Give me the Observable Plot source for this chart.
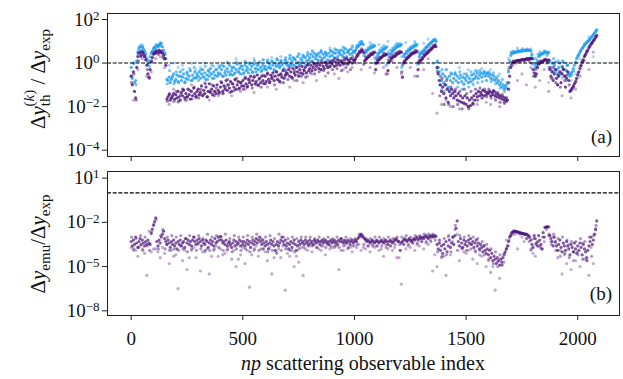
<!DOCTYPE html>
<html><head><meta charset="utf-8">
<script src="https://cdn.jsdelivr.net/npm/d3@7"></script>
<script src="https://cdn.jsdelivr.net/npm/@observablehq/plot@0.6"></script>
<style>
body{margin:0;background:#fff;}
#c{position:relative;width:623px;height:379px;font-family:"Liberation Serif",serif;}
#c svg{position:absolute;left:0;overflow:visible;}
</style></head><body><div id="c"></div>
<script>
// log10 values, main arrays at index 0,5,10,...
const topPurple=[
-0.6,-1.0,-0.4,-1.3,-1.6,-0.2,0.3,0.45,0.5,0.35,0.5,0.4,0.3,0.15,-0.1,-0.5,-0.65,-0.3,0.05,0.25,
0.4,0.5,0.45,0.55,0.5,0.6,0.5,0.55,0.45,0.35,0.2,-0.1,-1.65,-1.55,-1.45,-1.7,-1.6,-1.5,-1.4,-1.65,
-1.45,-1.6,-1.3,-1.55,-1.7,-1.35,-1.5,-1.25,-1.6,-1.4,-1.55,-1.2,-1.45,-1.65,-1.3,-1.5,-1.15,-1.4,-1.55,-1.3,
-1.2,-1.45,-1.35,-1.05,-1.5,-1.25,-1.4,-1.1,-1.55,-1.3,-0.95,-1.35,-1.2,-1.45,-1.05,-1.3,-1.4,-1.0,-1.25,-1.35,
-1.1,-0.9,-1.3,-1.05,-1.2,-0.8,-1.25,-1.0,-1.15,-0.85,-1.3,-0.95,-1.1,-0.75,-1.2,-1.0,-0.85,-1.15,-0.9,-1.05,
-0.8,-1.05,-0.7,-0.95,-1.1,-0.75,-0.9,-0.6,-1.0,-0.8,-0.65,-0.95,-0.85,-0.55,-1.0,-0.7,-0.9,-0.6,-0.8,-0.95,
-0.6,-0.85,-0.5,-0.75,-0.9,-0.55,-0.7,-0.45,-0.8,-0.6,-0.4,-0.75,-0.55,-0.85,-0.5,-0.65,-0.35,-0.7,-0.55,-0.45,
-0.5,-0.3,-0.6,-0.4,-0.65,-0.25,-0.45,-0.55,-0.2,-0.4,-0.6,-0.3,-0.45,-0.15,-0.5,-0.35,-0.2,-0.45,-0.1,-0.35,
-0.25,-0.1,-0.35,-0.2,-0.05,-0.3,-0.15,0.0,-0.25,-0.1,-0.3,0.0,-0.15,-0.25,0.05,-0.1,-0.2,0.0,-0.15,0.05,
-0.05,0.1,-0.15,0.05,-0.1,0.15,0.0,-0.1,0.1,0.05,-0.05,0.15,0.0,0.2,-0.05,0.1,0.05,0.2,0.0,0.15,
0.1,0.2,0.3,0.35,0.45,0.5,0.55,0.6,0.5,0.1,0.15,0.2,0.25,0.3,0.35,0.4,0.4,0.45,0.5,-0.3,
0.0,0.1,0.15,0.2,0.25,0.3,0.35,0.35,0.4,0.4,-0.35,0.05,0.1,0.2,0.25,0.3,0.3,0.35,0.4,0.45,
0.45,0.5,0.5,-0.65,0.0,0.1,0.15,0.2,0.25,0.3,0.35,0.4,0.45,0.45,0.5,0.5,0.55,-0.3,0.0,0.1,
0.15,0.2,0.3,0.35,0.4,0.45,0.5,0.55,0.6,0.65,0.7,0.75,0.8,0.75,-0.2,-0.5,-0.8,-1.0,-1.3,-1.1,
-1.4,-1.0,-1.6,-1.2,-1.8,-1.3,-1.5,-1.2,-1.4,-1.6,-1.3,-1.5,-1.7,-1.4,-1.75,-1.5,-1.8,-1.6,-1.85,-1.5,
-1.9,-1.6,-2.0,-1.7,-1.95,-1.6,-1.85,-1.5,-1.7,-1.4,-1.55,-1.3,-1.5,-1.35,-1.45,-1.25,-1.5,-1.3,-1.45,-1.35,
-1.4,-1.3,-1.5,-1.35,-1.45,-1.3,-1.5,-1.4,-1.55,-1.45,-1.6,-1.5,-1.65,-1.55,-1.7,-1.6,-1.75,-1.7,-1.2,-0.6,
-0.2,0.0,0.05,0.05,0.08,0.1,0.1,0.12,0.12,0.14,0.15,0.15,0.16,0.17,0.18,0.18,0.2,0.2,0.2,0.2,
-0.3,-0.45,-0.6,-0.5,-0.2,-0.05,0.0,0.05,0.08,0.1,0.12,0.15,0.15,0.1,0.15,-0.3,-0.6,-0.4,-0.8,-0.5,
-0.3,-0.7,-1.0,-0.6,-0.4,-0.9,-0.5,-0.3,-0.6,-1.1,-0.7,-0.4,-0.8,-1.3,-1.25,-1.15,-1.05,-0.95,-0.87,-0.7,
-0.55,-0.4,-0.25,-0.1,0.05,0.15,0.3,0.4,0.5,0.6,0.7,0.8,0.88,0.95,1.02,1.1,1.18,1.27];
const topBlue=[
-0.2,-0.7,0.0,-0.9,-0.8,0.1,0.5,0.7,0.75,0.6,0.75,0.65,0.55,0.4,0.2,-0.05,0.1,0.3,0.45,0.55,
0.65,0.75,0.7,0.8,0.75,0.85,0.8,0.9,0.75,0.6,0.45,0.2,-0.75,-0.8,-0.65,-0.9,-0.75,-0.6,-0.5,-0.85,
-0.75,-0.55,-0.85,-0.6,-0.4,-0.8,-0.65,-0.5,-0.9,-0.7,-0.45,-0.75,-0.6,-0.35,-0.8,-0.55,-0.7,-0.4,-0.65,-0.5,
-0.6,-0.4,-0.7,-0.5,-0.3,-0.65,-0.45,-0.75,-0.55,-0.35,-0.6,-0.25,-0.5,-0.7,-0.4,-0.55,-0.3,-0.6,-0.45,-0.2,
-0.5,-0.3,-0.6,-0.15,-0.45,-0.55,-0.25,-0.4,-0.1,-0.5,-0.35,-0.55,-0.2,-0.45,-0.3,-0.05,-0.4,-0.25,-0.5,-0.15,
-0.3,-0.45,-0.1,-0.35,-0.2,-0.45,0.0,-0.3,-0.15,-0.4,-0.05,-0.25,-0.4,-0.1,-0.3,0.05,-0.2,-0.35,-0.1,-0.25,
-0.15,-0.3,0.05,-0.2,-0.05,-0.25,0.1,-0.1,-0.3,0.0,-0.15,0.15,-0.05,-0.2,0.1,-0.1,0.0,-0.25,0.15,-0.05,
0.05,-0.1,0.2,-0.05,0.1,0.25,-0.1,0.15,0.0,0.3,0.05,-0.05,0.2,0.1,0.35,0.0,0.25,0.1,0.35,0.15,
0.25,0.4,0.1,0.3,0.45,0.2,0.35,0.15,0.45,0.3,0.5,0.2,0.4,0.25,0.5,0.35,0.15,0.45,0.3,0.55,
0.35,0.5,0.25,0.45,0.6,0.3,0.5,0.4,0.6,0.35,0.55,0.45,0.65,0.3,0.5,0.6,0.4,0.65,0.45,0.55,
0.5,0.6,0.7,0.75,0.8,0.85,0.9,0.9,0.85,0.45,0.5,0.55,0.6,0.65,0.7,0.7,0.75,0.75,0.8,0.0,
0.25,0.35,0.45,0.5,0.55,0.6,0.65,0.65,0.7,0.75,0.0,0.3,0.4,0.45,0.55,0.6,0.65,0.7,0.75,0.75,
0.8,0.8,0.85,-0.1,0.3,0.4,0.45,0.5,0.55,0.6,0.65,0.7,0.7,0.75,0.8,0.8,0.85,0.05,0.3,0.4,
0.45,0.5,0.55,0.6,0.7,0.75,0.8,0.85,0.9,0.95,1.0,1.05,1.05,1.0,0.05,-0.2,-0.4,-0.6,-0.8,-0.5,
-0.9,-0.6,-1.0,-0.7,-1.1,-0.6,-0.8,-0.5,-0.9,-0.7,-0.5,-0.8,-0.6,-0.9,-0.7,-0.55,-0.85,-0.65,-0.95,-0.7,
-0.8,-0.6,-0.9,-0.7,-0.85,-0.55,-0.75,-0.5,-0.7,-0.6,-0.45,-0.7,-0.55,-0.45,-0.65,-0.5,-0.4,-0.6,-0.5,-0.45,
-0.6,-0.5,-0.7,-0.55,-0.75,-0.6,-0.8,-0.7,-0.9,-0.8,-1.0,-0.9,-1.1,-1.0,-1.2,-1.05,-1.15,-0.9,-0.4,0.1,
0.35,0.45,0.45,0.48,0.5,0.5,0.52,0.52,0.54,0.55,0.55,0.56,0.57,0.58,0.58,0.6,0.6,0.6,0.55,0.4,
0.2,0.0,-0.2,-0.1,0.1,0.3,0.35,0.4,0.42,0.45,0.47,0.5,0.5,0.45,0.5,0.1,-0.2,0.0,-0.4,-0.1,
0.05,-0.3,-0.55,-0.2,0.0,-0.45,-0.15,0.05,-0.3,-0.6,-0.35,-0.1,-0.5,-0.6,-0.5,-0.4,-0.25,-0.1,0.05,0.2,
0.3,0.4,0.5,0.6,0.68,0.75,0.82,0.88,0.94,1.0,1.05,1.1,1.17,1.24,1.3,1.38,1.45,1.52];
const botPurple=[
-3.3,-3.6,-3.2,-3.5,-3.0,-3.4,-3.7,-3.3,-3.1,-3.5,-3.2,-3.4,-3.6,-3.3,-3.5,-3.2,-3.4,-3.5,-2.75,-2.45,
-2.2,-1.95,-1.7,-3.3,-3.6,-3.2,-3.4,-3.0,-2.8,-2.6,-3.1,-3.3,-3.5,-3.2,-3.4,-3.7,-3.3,-3.5,-3.2,-3.6,
-3.4,-3.8,-3.3,-3.5,-3.2,-3.6,-3.4,-3.3,-3.7,-3.1,-3.4,-3.2,-3.5,-3.3,-3.6,-3.2,-3.0,-3.3,-3.5,-3.2,
-3.4,-3.1,-3.3,-3.6,-3.2,-3.4,-3.5,-3.2,-3.3,-3.7,-3.4,-3.2,-3.5,-3.3,-3.6,-3.1,-3.4,-3.3,-3.0,-3.2,
-2.95,-3.2,-3.4,-3.3,-3.5,-3.2,-3.6,-3.4,-3.3,-3.5,-3.7,-3.4,-3.2,-3.6,-3.3,-3.5,-3.4,-3.2,-3.6,-3.3,
-3.5,-3.3,-3.6,-3.4,-3.2,-3.5,-3.3,-3.7,-3.4,-3.2,-3.5,-3.3,-3.1,-3.4,-3.2,-3.0,-3.3,-3.5,-3.2,-3.4,
-3.6,-3.3,-3.5,-3.8,-3.4,-3.2,-3.5,-3.3,-3.6,-3.9,-3.5,-3.3,-3.6,-3.4,-3.2,-3.0,-3.3,-3.5,-3.2,-3.6,
-3.4,-3.8,-3.5,-3.3,-3.7,-3.4,-3.2,-3.5,-3.9,-3.6,-3.3,-3.5,-3.2,-3.4,-3.3,-3.5,-3.2,-3.4,-3.3,-3.5,
-3.2,-3.4,-3.3,-3.5,-3.2,-3.3,-3.4,-3.2,-3.3,-3.5,-3.3,-3.2,-3.4,-3.3,-3.2,-3.4,-3.3,-3.5,-3.3,-3.2,
-3.4,-3.3,-3.2,-3.4,-3.3,-3.5,-3.2,-3.3,-3.1,-3.3,-3.4,-3.2,-3.3,-3.4,-3.2,-3.3,-3.5,-3.3,-3.2,-3.4,
-3.3,-3.2,-3.3,-3.1,-3.0,-2.9,-2.8,-2.9,-3.0,-3.1,-3.2,-3.3,-3.2,-3.3,-3.4,-3.3,-3.2,-3.3,-3.4,-3.3,
-3.2,-3.3,-3.4,-3.3,-3.2,-3.3,-3.4,-3.3,-3.2,-3.3,-3.5,-3.3,-3.2,-3.3,-3.4,-3.3,-3.2,-3.1,-3.2,-3.3,
-3.3,-3.9,-3.4,-3.3,-3.2,-3.1,-3.2,-3.3,-3.2,-3.1,-3.2,-3.3,-3.2,-3.1,-3.2,-3.1,-3.0,-3.2,-3.1,-3.0,
-3.1,-3.0,-3.1,-3.0,-2.9,-3.0,-3.1,-3.0,-2.9,-3.0,-2.9,-3.0,-2.9,-2.95,-3.5,-3.8,-3.4,-3.9,-3.6,-4.1,
-3.5,-3.8,-3.3,-4.0,-3.6,-3.2,-3.7,-3.4,-3.0,-3.5,-2.9,-2.4,-1.9,-3.3,-3.6,-3.1,-3.4,-3.7,-3.2,-3.5,
-3.3,-3.6,-3.2,-3.4,-3.1,-3.5,-3.3,-3.7,-3.4,-3.2,-3.6,-3.4,-3.8,-3.5,-3.7,-4.0,-3.6,-3.9,-4.1,-3.8,
-4.2,-3.9,-4.4,-4.1,-4.6,-4.3,-4.5,-4.8,-4.4,-4.6,-4.9,-4.5,-4.7,-4.4,-4.2,-4.0,-3.8,-3.6,-3.3,-3.0,
-2.9,-2.7,-2.65,-2.6,-2.6,-2.62,-2.65,-2.67,-2.7,-2.72,-2.75,-2.75,-2.78,-2.8,-2.8,-2.85,-2.9,-3.0,-3.2,-3.5,
-3.7,-2.9,-3.1,-3.4,-3.6,-2.9,-3.2,-3.5,-3.8,-2.7,-3.0,-2.35,-2.33,-2.3,-2.3,-2.9,-3.1,-3.3,-3.6,-3.0,
-3.3,-3.6,-3.9,-3.5,-3.2,-3.7,-4.0,-3.4,-3.6,-3.9,-3.3,-3.6,-3.8,-4.2,-3.5,-3.7,-4.0,-3.4,-3.8,-4.1,
-3.6,-3.9,-3.4,-3.7,-4.2,-3.5,-3.8,-4.0,-4.4,-3.9,-3.6,-3.3,-3.0,-3.5,-3.2,-2.8,-2.5,-1.9];
// second pass of each band, at index 2,12,22,...
const topPurpleB=[
-0.9,-0.5,-1.7,0.1,0.3,0.5,0.3,-0.3,-0.7,0.1,
0.45,0.55,0.4,0.5,0.25,0.2,-1.75,-1.4,-1.6,-1.75,
-1.3,-1.75,-1.45,-1.2,-1.7,-1.55,-1.25,-1.65,-1.1,-1.5,
-1.6,-1.2,-1.45,-0.95,-1.55,-1.3,-1.0,-1.5,-1.15,-1.4,
-0.85,-1.4,-1.1,-0.75,-1.35,-0.95,-1.25,-0.7,-1.2,-0.9,
-1.2,-0.65,-1.05,-0.8,-1.15,-0.6,-1.0,-0.75,-1.1,-0.55,
-0.95,-0.45,-0.85,-0.6,-1.0,-0.4,-0.8,-0.55,-0.9,-0.35,
-0.75,-0.2,-0.7,-0.35,-0.8,-0.15,-0.6,-0.3,-0.65,-0.05,
-0.45,0.05,-0.5,-0.05,-0.4,0.1,-0.35,0.0,-0.45,0.1,
-0.3,0.2,-0.25,0.1,-0.35,0.25,-0.2,0.15,-0.3,0.3,
0.15,0.4,0.55,0.65,-0.05,0.25,0.35,0.45,0.5,0.0,
0.15,0.25,0.3,0.45,-0.5,0.15,0.25,0.35,0.45,0.5,
0.55,-0.4,0.05,0.25,0.35,0.45,0.5,0.6,-0.6,0.15,
0.25,0.4,0.5,0.6,0.7,0.8,0.85,-0.4,-1.5,-0.7,
-1.9,-0.8,-1.9,-1.1,-2.0,-1.2,-1.9,-1.3,-2.1,-1.2,
-1.4,-2.1,-1.3,-1.9,-1.2,-1.7,-1.15,-1.6,-1.2,-1.55,
-1.2,-1.6,-1.25,-1.7,-1.35,-1.8,-1.45,-1.85,-1.6,-0.9,
-0.1,0.1,0.0,0.12,0.05,0.18,0.1,0.22,0.1,0.0,
-0.6,-0.3,0.0,0.1,0.05,0.18,0.0,-0.2,-0.7,-0.2,
-0.9,-0.5,-1.1,-0.2,-0.8,-0.55,-1.0,-1.2,-1.1,-0.8,
-0.45,-0.15,0.1,0.35,0.55,0.75,0.9,1.05,1.22];
const topBlueB=[
-0.6,0.0,-1.0,0.6,0.8,0.75,0.5,0.1,-0.15,0.5,
0.7,0.85,0.8,0.9,0.5,0.4,-0.95,-0.35,-0.7,-0.95,
-0.4,-0.9,-0.6,-0.3,-0.85,-0.55,-0.25,-0.8,-0.2,-0.7,
-0.8,-0.3,-0.6,-0.15,-0.75,-0.45,-0.1,-0.7,-0.3,-0.55,
-0.1,-0.6,-0.35,0.0,-0.55,-0.2,-0.5,0.05,-0.4,-0.15,
-0.5,0.05,-0.3,-0.05,-0.45,0.1,-0.25,0.0,-0.4,0.15,
-0.3,0.15,-0.2,0.05,-0.35,0.2,-0.15,0.1,-0.3,0.25,
-0.15,0.35,-0.1,0.2,-0.2,0.4,0.0,0.3,-0.1,0.45,
0.05,0.55,0.0,0.4,0.1,0.55,0.05,0.45,0.1,0.6,
0.15,0.65,0.2,0.5,0.1,0.7,0.25,0.55,0.2,0.75,
0.55,0.8,0.95,1.0,0.35,0.6,0.7,0.8,0.85,0.2,
0.45,0.6,0.7,0.8,-0.1,0.5,0.6,0.7,0.8,0.85,
0.9,-0.2,0.4,0.55,0.65,0.75,0.8,0.9,-0.05,0.45,
0.55,0.65,0.75,0.85,0.95,1.05,1.1,0.1,-1.0,-0.3,
-1.3,-0.3,-1.2,-0.45,-1.3,-0.5,-1.1,-0.4,-1.2,-0.5,
-0.5,-1.1,-0.4,-1.0,-0.35,-0.9,-0.35,-0.85,-0.4,-0.8,
-0.4,-0.85,-0.45,-0.95,-0.6,-1.15,-0.75,-1.3,-1.0,-0.2,
0.5,0.55,0.5,0.6,0.55,0.65,0.6,0.65,0.58,0.3,
-0.05,0.2,0.4,0.5,0.45,0.55,0.35,0.1,-0.3,0.2,
-0.4,0.1,-0.5,0.1,-0.3,-0.1,-0.45,-0.55,-0.35,0.0,
0.35,0.55,0.7,0.85,0.97,1.08,1.2,1.33,1.48];
const botPurpleB=[
-3.0,-3.8,-3.1,-3.7,-2.9,-3.9,-3.0,-3.6,-3.9,-2.6,
-2.1,-1.8,-3.8,-2.9,-2.5,-3.8,-3.0,-3.9,-2.9,-3.8,
-3.0,-3.9,-2.9,-3.8,-3.1,-4.0,-2.9,-3.8,-3.0,-3.9,
-2.9,-3.8,-3.1,-3.9,-2.8,-3.9,-3.0,-3.8,-2.9,-3.7,
-3.0,-3.9,-2.8,-3.8,-3.1,-4.0,-2.9,-3.8,-3.0,-3.9,
-3.0,-3.8,-2.9,-4.0,-3.0,-3.8,-2.8,-3.9,-3.1,-3.8,
-3.0,-4.0,-2.9,-3.9,-3.1,-4.1,-2.8,-3.9,-3.0,-3.8,
-3.1,-3.9,-3.0,-4.0,-3.1,-3.8,-3.0,-3.7,-3.0,-3.6,
-3.0,-3.6,-3.1,-3.7,-3.0,-3.6,-3.1,-3.7,-3.0,-3.6,
-3.1,-3.6,-3.0,-3.7,-3.1,-3.6,-3.0,-3.7,-3.1,-3.6,
-3.1,-3.5,-2.8,-3.0,-3.5,-3.1,-3.6,-3.1,-3.6,-3.0,
-3.6,-3.0,-3.6,-3.1,-3.7,-3.0,-3.6,-3.1,-3.5,-3.0,
-3.5,-3.0,-3.5,-2.9,-3.5,-3.0,-3.4,-2.9,-3.4,-2.9,
-3.3,-2.8,-3.3,-2.8,-3.3,-2.8,-3.2,-4.0,-3.2,-4.3,
-3.1,-4.2,-2.9,-4.0,-3.0,-2.2,-3.9,-2.9,-3.8,-3.0,
-3.9,-2.9,-3.8,-3.0,-4.0,-3.1,-3.9,-3.3,-4.2,-3.5,
-4.5,-3.8,-4.8,-4.0,-5.0,-4.2,-4.9,-4.1,-3.8,-3.2,
-2.75,-2.6,-2.63,-2.68,-2.73,-2.78,-2.83,-3.1,-3.3,-3.8,
-3.1,-3.5,-3.3,-3.7,-3.0,-2.32,-2.3,-2.8,-3.5,-2.8,
-3.9,-3.1,-4.3,-3.0,-4.1,-3.2,-4.4,-3.3,-4.0,-3.3,
-4.2,-3.1,-4.5,-3.3,-4.6,-3.0,-4.3,-2.9,-2.2];
// fainter scattered points, at index 10,30,50,... (A) and 0,20,40,... (B)
const topPurpleScatter=[
-1.7,-0.3,0.2,-0.6,-0.4,0.2,0.3,-0.2,-1.9,-1.2,
-1.8,-1.2,-1.7,-1.0,-1.6,-1.45,-0.9,-1.7,-1.3,-1.5,
-1.4,-1.0,-1.5,-0.8,-1.3,-1.2,-0.7,-1.35,-1.05,-0.9,
-1.1,-0.7,-1.2,-0.9,-0.6,-1.1,-0.8,-0.5,-0.9,-0.6,
-0.5,-0.8,-0.3,-0.6,-0.2,-0.5,-0.7,-0.3,-0.4,-0.2,
0.0,-0.3,0.3,-0.2,-0.45,0.0,-0.2,-0.5,0.1,-0.2,
-0.5,0.0,-0.2,-0.6,0.1,-0.3,0.2,-1.4,-2.3,-1.9,
-1.7,-2.0,-1.5,-2.1,-1.8,-2.0,-1.7,-1.9,-1.6,-1.8,
-1.9,-1.6,-2.0,-1.8,-0.3,-0.1,-0.8,-0.5,-1.0,-0.2,
-1.1,-0.8,-0.3,-1.3,-0.7,-1.0,-1.5,-0.8,-1.6,-1.2,
-0.6,0.1,-0.3,0.5];
const topBlueScatter=[
0.0,0.4,0.85,0.2,0.1,0.6,0.95,0.5,-0.1,0.0,
-0.2,-0.1,-0.4,0.0,-0.3,-0.2,0.0,-0.35,-0.15,-0.1,
-0.1,0.05,-0.2,0.2,-0.05,0.1,0.0,0.2,-0.1,0.15,
0.1,0.25,-0.1,0.3,0.1,0.35,0.2,0.45,0.25,0.5,
0.55,0.3,0.6,0.4,0.7,0.45,0.6,0.75,0.5,0.8,
0.8,1.0,0.6,0.95,0.3,0.85,0.5,1.0,0.55,0.9,
0.3,0.95,0.6,1.0,0.5,0.9,1.1,0.0,-0.3,-1.2,
-0.3,-1.4,-0.4,-0.2,-1.0,-0.3,-0.9,-0.35,-0.25,-0.8,
-0.3,-1.3,-0.5,-1.1,0.2,0.5,0.7,0.6,0.55,0.65,
-0.5,0.4,0.55,-0.9,0.0,-0.3,-0.7,0.0,-0.8,-0.5,
0.2,0.9,1.2,0.3];
const botPurpleScatter=[
-3.9,-4.3,-3.8,-5.6,-4.0,-3.8,-4.4,-4.1,-4.8,-4.3,
-6.5,-4.6,-5.2,-3.9,-4.4,-5.3,-4.0,-5.5,-3.9,-4.3,
-4.2,-3.9,-4.5,-5.0,-4.2,-4.8,-6.4,-3.9,-4.3,-3.8,
-4.6,-5.5,-4.0,-4.4,-6.6,-4.3,-5.0,-4.7,-5.6,-3.9,
-4.0,-3.7,-3.9,-4.2,-3.8,-3.7,-5.2,-3.9,-3.8,-4.0,
-3.7,-3.9,-3.8,-4.0,-3.7,-3.9,-4.3,-3.8,-3.9,-4.4,
-6.2,-3.8,-3.7,-3.9,-3.6,-3.8,-3.5,-5.3,-5.0,-4.4,
-5.6,-4.2,-2.5,-4.6,-4.0,-3.9,-4.5,-4.8,-4.3,-5.0,
-5.4,-6.6,-5.8,-4.7,-3.6,-2.8,-3.8,-3.0,-3.1,-3.9,
-4.3,-3.6,-3.3,-2.9,-3.0,-4.4,-5.5,-4.8,-5.2,-4.6,
-5.0,-4.5,-5.6,-4.8];
const botPurpleScatterB=[
-3.7,-3.9,-3.6,-4.1,-2.6,-3.8,-4.0,-3.7,-3.5,-3.9,
-4.2,-3.6,-3.9,-4.4,-3.7,-3.5,-4.0,-3.8,-4.3,-3.6,
-3.8,-4.1,-3.6,-3.9,-4.5,-3.7,-3.9,-4.2,-3.6,-3.8,
-4.0,-3.7,-4.4,-3.8,-3.6,-4.1,-3.9,-4.3,-3.7,-3.8,
-3.6,-3.5,-3.8,-3.6,-3.5,-3.7,-3.6,-3.9,-3.5,-3.7,
-3.6,-3.5,-3.7,-3.6,-3.5,-3.6,-3.8,-3.5,-3.6,-3.7,
-4.4,-3.5,-3.6,-3.4,-3.5,-3.3,-3.4,-3.2,-4.2,-3.2,
-4.3,-3.0,-3.3,-2.8,-3.7,-4.1,-3.5,-3.9,-4.2,-3.6,
-4.6,-5.0,-4.7,-4.9,-3.2,-2.9,-2.8,-2.8,-3.3,-3.0,
-4.1,-3.3,-3.8,-2.5,-3.3,-3.4,-3.9,-4.2,-3.5,-4.6,
-4.0,-3.4,-4.6,-3.7,-2.4];
const MAIN_START=0, MAIN_STEP=5, B_START=2, B_STEP=10, SC_START=10, SC_B_START=0, SC_STEP=20;
const xTicks=[0,500,1000,1500,2000];
const topYTicks=[1e-4,1e-2,1e0,1e2];
const botYTicks=[1e-8,1e-5,1e-2,1e1];
const refLine=[1];
const panelLabels=["(a)","(b)"];

const PURPLE="#4b1278", BLUE="#1f9cf0";
const mk=(arr,start,step)=>arr.map((v,k)=>({i:start+k*step,v:Math.pow(10,v)}));
const xDomain=[-106,2187];
const fmt=d=>"10^"+Math.round(Math.log10(d));
const style={fontFamily:'"Liberation Serif", serif',fontSize:"19px",background:"transparent",overflow:"visible",color:"#111"};
const R=1.6;

const topSvg=Plot.plot({
  width:623,height:160,marginLeft:107,marginRight:4,marginTop:13,marginBottom:4,style,
  x:{domain:xDomain,label:null},
  y:{type:"log",domain:[Math.pow(10,-4.29),Math.pow(10,2.276)],label:null},
  marks:[
    Plot.dot(mk(topBlueScatter,SC_START,SC_STEP),{x:"i",y:"v",r:R,fill:BLUE,fillOpacity:0.4}),
    Plot.dot(mk(topBlueB,B_START,B_STEP),{x:"i",y:"v",r:R,fill:BLUE,fillOpacity:0.6}),
    Plot.dot(mk(topBlue,MAIN_START,MAIN_STEP),{x:"i",y:"v",r:R,fill:BLUE,fillOpacity:0.8}),
    Plot.dot(mk(topPurpleScatter,SC_START,SC_STEP),{x:"i",y:"v",r:R,fill:PURPLE,fillOpacity:0.35}),
    Plot.dot(mk(topPurpleB,B_START,B_STEP),{x:"i",y:"v",r:R,fill:PURPLE,fillOpacity:0.55}),
    Plot.dot(mk(topPurple,MAIN_START,MAIN_STEP),{x:"i",y:"v",r:R,fill:PURPLE,fillOpacity:0.8}),
    Plot.ruleY(refLine,{stroke:"#000",strokeWidth:1.1,strokeDasharray:"4,1.7"}),
    Plot.frame({stroke:"#222"}),
    Plot.axisX({ticks:xTicks,tickSize:5,tickFormat:()=>"",stroke:"#222",label:null}),
    Plot.axisY({ticks:topYTicks,tickSize:5,tickPadding:3,tickFormat:fmt,stroke:"#222",label:null})
  ]
});
const botSvg=Plot.plot({
  width:623,height:219,marginLeft:107,marginRight:4,marginTop:11,marginBottom:64,style,
  x:{domain:xDomain,label:null},
  y:{type:"log",domain:[Math.pow(10,-8.32),Math.pow(10,1.45)],label:null},
  marks:[
    Plot.dot(mk(botPurpleScatter,SC_START,SC_STEP),{x:"i",y:"v",r:R,fill:PURPLE,fillOpacity:0.35}),
    Plot.dot(mk(botPurpleScatterB,SC_B_START,SC_STEP),{x:"i",y:"v",r:R,fill:PURPLE,fillOpacity:0.35}),
    Plot.dot(mk(botPurpleB,B_START,B_STEP),{x:"i",y:"v",r:R,fill:PURPLE,fillOpacity:0.45}),
    Plot.dot(mk(botPurple,MAIN_START,MAIN_STEP),{x:"i",y:"v",r:R,fill:PURPLE,fillOpacity:0.7}),
    Plot.ruleY(refLine,{stroke:"#000",strokeWidth:1.1,strokeDasharray:"4,1.7"}),
    Plot.frame({stroke:"#222"}),
    Plot.axisX({ticks:xTicks,tickSize:5,tickPadding:11,tickFormat:d=>String(d),stroke:"#222",label:null}),
    Plot.axisY({ticks:botYTicks,tickSize:5,tickPadding:3,tickFormat:fmt,stroke:"#222",label:null})
  ]
});
const c=document.getElementById("c");
topSvg.style.top="0px"; botSvg.style.top="160px";
c.appendChild(topSvg); c.appendChild(botSvg);

function supTicks(svg){
  d3.select(svg).selectAll('g[aria-label="y-axis tick label"] text').each(function(){
    const t=this.textContent; if(t.indexOf("^")<0) return;
    const [b,e]=t.split("^");
    this.innerHTML=b+'<tspan dy="-0.45em" font-size="13">'+e.replace("-","\u2212")+'</tspan>';
  });
}
supTicks(topSvg); supTicks(botSvg);

const S=15;
d3.select(topSvg).append("text")
  .attr("transform","translate(45,79) rotate(-90)").attr("text-anchor","middle")
  .attr("font-size",21).attr("fill","#111")
  .html('\u0394<tspan font-style="italic">y</tspan><tspan font-size="'+S+'" dy="5">th</tspan><tspan font-size="'+S+'" dx="-12" dy="-16">(<tspan font-style="italic">k</tspan>)</tspan><tspan dy="11"> / \u0394</tspan><tspan font-style="italic">y</tspan><tspan font-size="'+S+'" dy="5">exp</tspan>');
d3.select(botSvg).append("text")
  .attr("transform","translate(45,84) rotate(-90)").attr("text-anchor","middle")
  .attr("font-size",21).attr("fill","#111")
  .html('\u0394<tspan font-style="italic">y</tspan><tspan font-size="'+S+'" dy="5">emu</tspan><tspan dy="-5">/\u0394</tspan><tspan font-style="italic">y</tspan><tspan font-size="'+S+'" dy="5">exp</tspan>');
d3.select(topSvg).append("text").attr("x",612).attr("y",143).attr("text-anchor","end")
  .attr("font-size",19).attr("fill","#111").text(panelLabels[0]);
d3.select(botSvg).append("text").attr("x",612).attr("y",140).attr("text-anchor","end")
  .attr("font-size",19).attr("fill","#111").text(panelLabels[1]);
d3.select(botSvg).append("text").attr("x",363).attr("y",210).attr("text-anchor","middle")
  .attr("font-size",20).attr("fill","#111")
  .html('<tspan font-style="italic">np</tspan> scattering observable index');
</script></body></html>
